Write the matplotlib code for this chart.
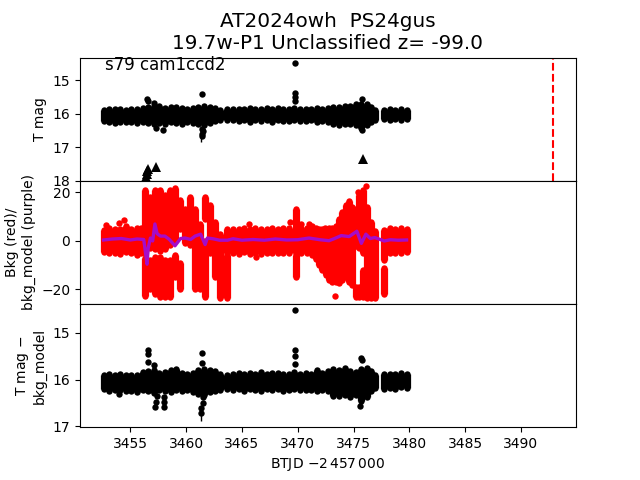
import matplotlib
matplotlib.use('Agg')
import matplotlib.pyplot as plt

# T mag band
mag_t = [3452.6, 3453.1, 3453.6, 3454.1, 3454.6, 3455.1, 3455.6, 3456.1, 3456.6, 3457.1, 3457.6,
         3458.1, 3458.6, 3459.1, 3459.6, 3460.1, 3460.6, 3461.1, 3461.6, 3462.1, 3462.6, 3463.0,
         3463.7, 3464.2, 3464.7, 3465.2, 3465.7, 3466.2, 3466.7, 3467.2, 3467.7, 3468.2, 3468.7,
         3469.2, 3469.7, 3470.2, 3470.7, 3471.2, 3471.7, 3472.2, 3472.7, 3473.2, 3473.7, 3474.2,
         3474.7, 3475.2, 3475.7, 3476.2, 3476.6, 3476.9,
         3477.75, 3478.25, 3478.75, 3479.25, 3479.75]
mag_hi = [15.88, 15.85, 15.87, 15.85, 15.88, 15.86, 15.86, 15.82, 15.8, 15.76, 15.78,
          15.82, 15.8, 15.8, 15.82, 15.85, 15.84, 15.8, 15.78, 15.8, 15.83, 15.88,
          15.87, 15.85, 15.86, 15.87, 15.84, 15.87, 15.85, 15.84, 15.86, 15.84, 15.85,
          15.86, 15.83, 15.86, 15.85, 15.87, 15.83, 15.86, 15.84, 15.8, 15.8, 15.78,
          15.76, 15.72, 15.7, 15.72, 15.8, 15.88,
          15.88, 15.86, 15.88, 15.87, 15.88]
mag_lo = [16.22, 16.24, 16.28, 16.24, 16.25, 16.26, 16.28, 16.25, 16.28, 16.32, 16.27,
          16.3, 16.25, 16.28, 16.3, 16.25, 16.27, 16.32, 16.35, 16.28, 16.22, 16.2,
          16.18, 16.18, 16.21, 16.2, 16.24, 16.2, 16.22, 16.2, 16.24, 16.2, 16.22,
          16.22, 16.2, 16.22, 16.22, 16.2, 16.24, 16.22, 16.24, 16.32, 16.35, 16.3,
          16.32, 16.34, 16.42, 16.35, 16.25, 16.18,
          16.15, 16.18, 16.15, 16.18, 16.15]
mag_out_t = [3456.5, 3456.6, 3457.15, 3457.3, 3457.95, 3461.4, 3461.45, 3461.5, 3461.4, 3461.4,
             3469.78, 3469.78, 3469.78, 3469.78, 3475.76, 3475.8]
mag_out = [15.55, 15.62, 15.68, 16.43, 16.5, 15.42, 16.45, 16.52, 16.68, 16.6,
           14.5, 15.38, 15.5, 15.62, 15.55, 16.48]

# upper limits, triangles
lim_t = [3456.4, 3456.45, 3456.5, 3456.55, 3457.33, 3475.88]
lim_mag = [17.9, 17.8, 17.72, 17.65, 17.58, 17.35]

# background, (t, lo, hi) columns
bkg_t = [3452.6, 3453.1, 3453.6, 3454.1, 3454.6, 3455.1, 3455.6, 3456.0,
         3456.3, 3456.3, 3456.75, 3456.75, 3457.2, 3457.2, 3457.65, 3457.65, 3458.1, 3458.1,
         3458.55, 3458.55, 3459.0, 3459.0, 3459.45, 3459.45, 3459.9, 3460.35, 3460.8,
         3461.25, 3461.7, 3461.7, 3462.15, 3462.6, 3463.0, 3463.7, 3463.7,
         3464.2, 3464.7, 3465.2, 3465.7, 3466.2, 3466.7, 3467.2, 3467.7, 3468.2, 3468.7, 3469.2,
         3469.8, 3469.8, 3470.3, 3470.8, 3471.3, 3471.6, 3471.9, 3472.2, 3472.5, 3472.8,
         3473.1, 3473.4, 3473.7, 3474.0, 3474.3, 3474.6, 3474.9, 3475.2, 3475.2, 3475.5, 3475.5,
         3475.85, 3475.85, 3476.2, 3476.6, 3476.9,
         3477.75, 3477.75, 3478.25, 3478.75, 3479.25, 3479.75]
bkg_lo = [-4.5, -5.0, -4.8, -5.2, -4.6, -5.0, -5.6, -5.0,
          -22.5, -5, -20, -3, -22, -3.5, -23, -4, -23, -3.5,
          -23, -1.5, -15, 0, -20, 5, -1, -1.5, -20,
          -20, -23, 9, -5, -15, -23.5, -23.5, -5,
          -4.8, -5.4, -4.6, -5.2, -4.8, -5.4, -4.8, -5.0, -4.8, -5.0, -4.8,
          -15, -4.8, -4.8, -5.0, -6, -7.5, -10, -12, -14, -16,
          -17, -17, -17.5, -16, -15, -17, -18, -23, -2, -23, -3,
          -23, -5, -23.5, -23.5, -23.5,
          -22, -8, -4.8, -5.0, -4.8, -4.6]
bkg_hi = [4.6, 5.2, 4.8, 5.0, 6.2, 5.0, 5.2, 5.4,
          -7, 21, -8, 18, -6.5, 21, -6.5, 21, -8, 19,
          -8, 21, -6, 22, -9, 17, 13, 18, 13,
          7, -0, 18, 15, 8, 3, -6, 5,
          5.0, 4.8, 5.2, 5.0, 5.2, 4.8, 5.0, 5.2, 5.0, 5.5, 5.2,
          -6, 13, 5.5, 5.4, 6.0, 5.4, 5.0, 5.0, 5.0, 5.4,
          5.4, 6.0, 9, 12, 15, 16.5, 14, -19, 13, -19, 19,
          -12, 21, 14, 8, 4,
          -11, 4.5, 5.2, 5.0, 5.5, 5.0]
bkg_out_t = [3452.8, 3454.0, 3454.4, 3465.6, 3466.3, 3469.3, 3470.3, 3471.05, 3472.4, 3473.3, 3476.1, 3475.4]
bkg_out = [6.6, 7.5, 8.6, 6.9, -6.6, 7.8, 6.9, 6.9, 5.5, -22.6, 22.6, 20]

# model background, purple line
model_t = [3452.6, 3453.4, 3454.2, 3455.0, 3455.6, 3456.2, 3456.5, 3456.6, 3456.8, 3457.0, 3457.2, 3457.4,
           3457.7, 3458.1, 3458.5, 3459.0, 3459.5, 3459.9, 3460.4, 3460.8, 3461.3, 3461.7, 3461.9,
           3462.4, 3463.0, 3463.7, 3464.2, 3465.0, 3466.0, 3467.0, 3468.0, 3469.0, 3470.0,
           3471.0, 3472.0, 3472.8, 3473.3, 3473.9, 3474.6, 3475.3, 3475.7, 3476.1, 3476.5, 3476.9,
           3477.75, 3478.3, 3479.0, 3479.75]
model_v = [0.4, 0.8, 1.0, 0.4, 0.8, 0.6, -9.6, -3.0, 1.2, 0.0, 7.0, 3.0,
           2.0, 2.0, 0.6, -2.0, 1.0, 1.2, 0.6, 2.0, 2.8, -1.5, 1.2,
           0.9, 0.3, 0.3, 0.9, 0.3, 0.6, 0.3, 0.8, 0.4, 0.5,
           1.2, 0.5, 0.1, 1.0, 2.2, 1.8, 4.0, -1.0, 2.8, 1.0, 1.4,
           0.0, 0.5, 0.3, 0.4]

# difference band, bottom panel
diff_t = mag_t
diff_hi = [15.9, 15.88, 15.9, 15.88, 15.9, 15.9, 15.9, 15.84, 15.82, 15.8, 15.85,
           15.83, 15.8, 15.78, 15.85, 15.87, 15.85, 15.8, 15.78, 15.8, 15.82, 15.88,
           15.9, 15.88, 15.86, 15.88, 15.86, 15.87, 15.83, 15.87, 15.86, 15.85, 15.88,
           15.87, 15.84, 15.87, 15.86, 15.88, 15.8, 15.86, 15.82, 15.78, 15.8, 15.76,
           15.82, 15.84, 15.78, 15.76, 15.82, 15.9,
           15.88, 15.87, 15.88, 15.86, 15.88]
diff_lo = [16.2, 16.24, 16.22, 16.22, 16.25, 16.24, 16.26, 16.22, 16.25, 16.28, 16.22,
           16.25, 16.26, 16.22, 16.24, 16.22, 16.26, 16.3, 16.34, 16.26, 16.24, 16.22,
           16.2, 16.22, 16.2, 16.24, 16.2, 16.22, 16.24, 16.2, 16.22, 16.2, 16.25,
           16.22, 16.2, 16.22, 16.23, 16.22, 16.25, 16.22, 16.25, 16.35, 16.36, 16.34,
           16.38, 16.34, 16.45, 16.38, 16.25, 16.18,
           16.2, 16.18, 16.2, 16.16, 16.18]
diff_out_t = [3454.0, 3456.55, 3456.55, 3456.6, 3457.15, 3457.35, 3457.3, 3457.25, 3458.0, 3458.0, 3458.0,
              3461.4, 3461.45, 3461.5, 3461.5, 3461.35, 3461.35,
              3469.78, 3469.78, 3469.78, 3469.78, 3475.7, 3475.78, 3475.55]
diff_out = [16.3, 15.36, 15.46, 15.63, 15.68, 16.36, 16.48, 16.58, 16.38, 16.48, 16.58,
            15.44, 15.64, 16.38, 16.5, 16.71, 16.6,
            14.5, 15.36, 15.5, 15.66, 15.53, 15.58, 16.57]

# error whiskers on the faintest points
mag_err_t = 3461.35
mag_err = (16.68, 16.84)
diff_err = (16.71, 16.89)

band_ms = 4.6
vline_t = 3492.9
model_color = '#a50cc8'


def draw_band(ax, t, lo, hi, color):
    # columns wider than the point spacing so the band closes up
    ax.vlines(t, lo, hi, color=color, lw=5.2)
    ax.plot(t, lo, 'o', color=color, ms=band_ms, mew=0)
    ax.plot(t, hi, 'o', color=color, ms=band_ms, mew=0)


fig, (ax1, ax2, ax3) = plt.subplots(3, 1, sharex=True)
fig.subplots_adjust(hspace=0)

# top panel
draw_band(ax1, mag_t, mag_lo, mag_hi, 'k')
ax1.plot(mag_out_t, mag_out, 'o', color='k', ms=band_ms, mew=0)
ax1.vlines(mag_err_t, mag_err[0], mag_err[1], color='k', lw=1)
ax1.plot(lim_t, lim_mag, '^', color='k', ms=6.5, mew=0)
ax1.axvline(vline_t, color='r', ls='--')
ax1.set_ylim(18.0, 14.33)
ax1.set_yticks([15, 16, 17, 18])
ax1.set_ylabel('T mag')
ax1.text(3452.75, 14.55, 's79 cam1ccd2', fontsize=12, va='center')
ax1.set_title('AT2024owh  PS24gus\n19.7w-P1 Unclassified z= -99.0', fontsize=14.4)
ax1.tick_params(axis='x', length=0)

# background panel
draw_band(ax2, bkg_t, bkg_lo, bkg_hi, 'r')
ax2.plot(bkg_out_t, bkg_out, 'o', color='r', ms=band_ms, mew=0)
ax2.plot(model_t, model_v, color=model_color, lw=2.4)
ax2.set_ylim(-26, 24.8)
ax2.set_yticks([-20, 0, 20])
ax2.set_ylabel('Bkg (red)/\nbkg_model (purple)')
ax2.tick_params(axis='x', length=0)

# bottom panel
draw_band(ax3, diff_t, diff_lo, diff_hi, 'k')
ax3.plot(diff_out_t, diff_out, 'o', color='k', ms=band_ms, mew=0)
ax3.vlines(mag_err_t, diff_err[0], diff_err[1], color='k', lw=1)
ax3.set_ylim(17.02, 14.38)
ax3.set_yticks([15, 16, 17])
ax3.set_ylabel('T mag $-$\nbkg_model')
ax3.set_xlim(3450.49, 3494.93)
ax3.set_xticks([3455, 3460, 3465, 3470, 3475, 3480, 3485, 3490])
ax3.set_xlabel(r'BTJD $-2\,457\,000$')

plt.savefig('out.png')
